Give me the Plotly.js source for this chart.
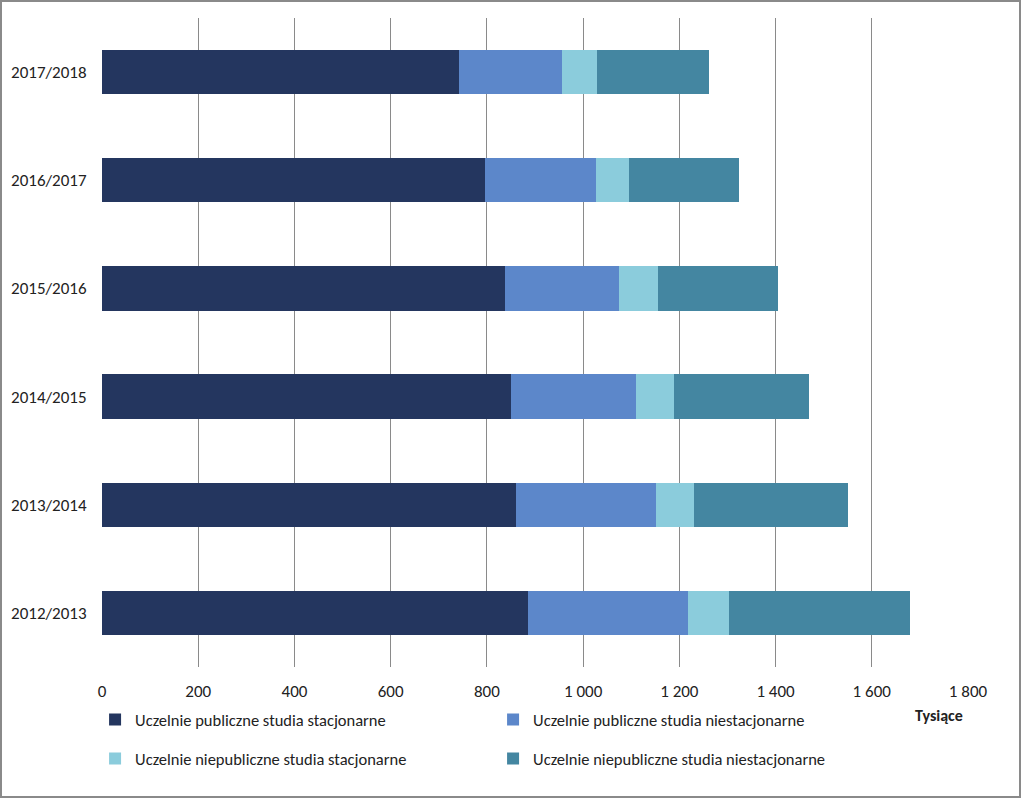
<!DOCTYPE html>
<html>
<head>
<meta charset="utf-8">
<script src="https://cdn.plot.ly/plotly-3.0.1.min.js"></script>
<style>
  html, body { margin: 0; padding: 0; background: #fff; }
  #wrap { position: relative; width: 1021px; height: 798px; }
  #chart { width: 1021px; height: 798px; }
  #frame { position: absolute; left: 0; top: 0; width: 1021px; height: 798px; box-sizing: border-box; border: 2px solid #8a8a8a; pointer-events: none; }
</style>
</head>
<body>
<div id="wrap"><div id="chart"></div><div id="frame"></div></div>
<script>
const years = ['2012/2013', '2013/2014', '2014/2015', '2015/2016', '2016/2017', '2017/2018'];
const seriesNames = [
  'Uczelnie publiczne studia stacjonarne',
  'Uczelnie publiczne studia niestacjonarne',
  'Uczelnie niepubliczne studia stacjonarne',
  'Uczelnie niepubliczne studia niestacjonarne'
];
const publiczneStacjonarne = [885, 861, 850, 838, 796, 742];
const publiczneNiestacjonarne = [333, 291, 260, 237, 231, 214];
const niepubliczneStacjonarne = [85, 79, 79, 81, 68, 73];
const niepubliczneNiestacjonarne = [377, 320, 281, 249, 229, 233];
const xTicks = [0, 200, 400, 600, 800, 1000, 1200, 1400, 1600, 1800];
const unitLabel = 'Tysiące';

const colors = ['#24365F', '#5C87CA', '#8BCCDC', '#4486A1'];
const values = [publiczneStacjonarne, publiczneNiestacjonarne, niepubliczneStacjonarne, niepubliczneNiestacjonarne];
const FONT = 'Calibri, Carlito, Lato, sans-serif';

const traces = values.map((v, i) => ({
  type: 'bar',
  orientation: 'h',
  name: seriesNames[i],
  y: years,
  x: v,
  marker: { color: colors[i], line: { width: 0 } },
  legend: i < 2 ? 'legend' : 'legend2',
  hoverinfo: 'x+name'
}));

const legendCommon = {
  orientation: 'h',
  xanchor: 'left',
  yanchor: 'middle',
  font: { family: FONT, size: 16.5, color: '#222' },
  itemwidth: 30,
  entrywidth: 353,
  bgcolor: 'rgba(0,0,0,0)',
  traceorder: 'normal'
};

const layout = {
  width: 1021,
  height: 798,
  margin: { l: 102, r: 53, t: 18, b: 131 },
  paper_bgcolor: '#fff',
  plot_bgcolor: '#fff',
  barmode: 'stack',
  bargap: 0.59,
  separators: ', ',
  font: { family: FONT, size: 17, color: '#222' },
  xaxis: {
    range: [0, 1800],
    tickvals: xTicks,
    separatethousands: true,
    showgrid: true,
    gridcolor: '#8a8a8a',
    gridwidth: 1,
    zeroline: false,
    showline: false,
    ticks: 'outside',
    ticklen: 9,
    tickcolor: 'rgba(0,0,0,0)',
    fixedrange: true,
    tickfont: { family: FONT, size: 17, color: '#222' }
  },
  yaxis: {
    type: 'category',
    categoryorder: 'array',
    categoryarray: years,
    showgrid: false,
    zeroline: false,
    showline: false,
    ticks: 'outside',
    ticklen: 11,
    tickcolor: 'rgba(0,0,0,0)',
    fixedrange: true,
    tickfont: { family: FONT, size: 17, color: '#222' }
  },
  showlegend: true,
  legend: Object.assign({}, legendCommon, { x: -0.008, y: -0.0815 }),
  legend2: Object.assign({}, legendCommon, { x: -0.008, y: -0.1415 }),
  annotations: [{
    text: '<b>' + unitLabel + '</b>',
    xref: 'paper', yref: 'paper',
    x: 0.966, y: -0.074,
    xanchor: 'center', yanchor: 'middle',
    showarrow: false,
    font: { family: FONT, size: 16, color: '#222' }
  }]
};

Plotly.newPlot('chart', traces, layout, { displayModeBar: false, staticPlot: false });
</script>
</body>
</html>
